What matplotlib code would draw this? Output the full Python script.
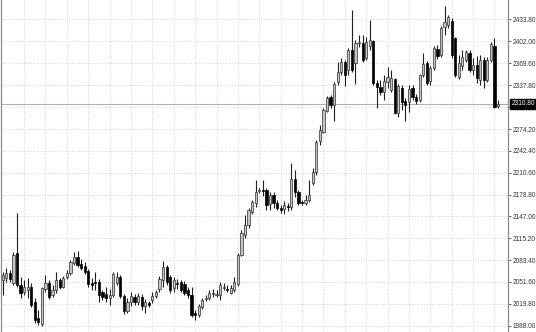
import matplotlib.pyplot as plt
import numpy as np

# OHLC das velas (da esquerda para a direita)
opens = [2055, 2057, 2065, 2050, 2094, 2047, 2037, 2040, 2044, 2023,
         1999, 1990, 2041, 2050, 2033, 2040, 2055, 2044, 2059, 2065,
         2079, 2088, 2078, 2075, 2068, 2050, 2052, 2052, 2037, 2034,
         2028, 2033, 2050, 2059, 2031, 2009, 2023, 2030, 2023, 2030,
         2017, 2021, 2025, 2031, 2041, 2055, 2073, 2059, 2043, 2050,
         2052, 2049, 2040, 2033, 2007, 2004, 2015, 2027, 2028, 2034,
         2033, 2033, 2043, 2041, 2036, 2040, 2049, 2091, 2120, 2135,
         2153, 2167, 2184, 2185, 2185, 2165, 2178, 2167, 2159, 2158,
         2162, 2161, 2201, 2183, 2168, 2167, 2171, 2196, 2212, 2257,
         2270, 2300, 2321, 2309, 2343, 2357, 2372, 2360, 2389, 2370,
         2399, 2399, 2378, 2395, 2402, 2341, 2335, 2328, 2343, 2331,
         2347, 2298, 2334, 2315, 2314, 2334, 2321, 2316, 2353, 2370,
         2344, 2363, 2391, 2382, 2423, 2426, 2431, 2407, 2350, 2366,
         2375, 2385, 2360, 2367, 2346, 2375, 2346, 2375, 2395, 2308]
closes = [2062, 2065, 2056, 2091, 2047, 2036, 2044, 2044, 2018, 1996,
          1993, 2043, 2050, 2030, 2040, 2055, 2044, 2057, 2065, 2081,
          2088, 2076, 2072, 2066, 2049, 2047, 2050, 2033, 2030, 2028,
          2033, 2063, 2059, 2031, 2009, 2023, 2031, 2023, 2031, 2017,
          2023, 2018, 2031, 2037, 2056, 2073, 2052, 2040, 2055, 2049,
          2040, 2036, 2033, 2004, 2004, 2017, 2025, 2028, 2036, 2036,
          2034, 2047, 2044, 2040, 2043, 2052, 2091, 2123, 2135, 2156,
          2168, 2183, 2185, 2184, 2164, 2178, 2167, 2159, 2156, 2164,
          2161, 2201, 2183, 2167, 2167, 2171, 2178, 2212, 2255, 2273,
          2302, 2319, 2309, 2340, 2357, 2372, 2353, 2389, 2360, 2399,
          2401, 2375, 2401, 2404, 2341, 2335, 2328, 2344, 2350, 2348,
          2298, 2337, 2314, 2309, 2332, 2321, 2315, 2353, 2369, 2341,
          2363, 2392, 2380, 2421, 2430, 2437, 2382, 2353, 2370, 2379,
          2386, 2360, 2367, 2348, 2375, 2346, 2375, 2398, 2306, 2311]
highs = [2066, 2072, 2069, 2095, 2152, 2059, 2055, 2057, 2050, 2028,
         2011, 2044, 2062, 2055, 2047, 2066, 2057, 2060, 2069, 2084,
         2095, 2097, 2085, 2081, 2071, 2057, 2066, 2056, 2040, 2044,
         2041, 2066, 2066, 2062, 2034, 2028, 2037, 2034, 2036, 2034,
         2027, 2024, 2037, 2040, 2060, 2082, 2076, 2062, 2059, 2056,
         2055, 2053, 2044, 2044, 2011, 2020, 2028, 2033, 2040, 2041,
         2040, 2052, 2050, 2047, 2047, 2059, 2094, 2127, 2149, 2159,
         2171, 2200, 2188, 2200, 2188, 2182, 2182, 2171, 2164, 2169,
         2167, 2225, 2215, 2185, 2171, 2178, 2200, 2217, 2258, 2280,
         2305, 2322, 2324, 2343, 2372, 2378, 2375, 2392, 2447, 2404,
         2411, 2411, 2408, 2433, 2404, 2346, 2346, 2353, 2364, 2360,
         2348, 2340, 2338, 2319, 2338, 2338, 2325, 2354, 2385, 2373,
         2366, 2395, 2396, 2424, 2453, 2440, 2436, 2408, 2382, 2389,
         2389, 2389, 2378, 2380, 2382, 2379, 2379, 2401, 2407, 2316]
lows = [2033, 2052, 2052, 2047, 2044, 2028, 2033, 2028, 2015, 1992,
        1989, 1988, 2037, 2027, 2030, 2036, 2041, 2043, 2056, 2062,
        2076, 2073, 2069, 2063, 2044, 2040, 2040, 2023, 2025, 2023,
        2018, 2030, 2047, 2028, 2005, 2007, 2017, 2018, 2018, 2011,
        2007, 2015, 2021, 2028, 2037, 2044, 2047, 2036, 2037, 2041,
        2037, 2033, 2028, 2001, 1996, 2001, 2012, 2024, 2025, 2030,
        2030, 2025, 2040, 2037, 2034, 2037, 2046, 2089, 2116, 2130,
        2150, 2161, 2181, 2177, 2156, 2156, 2159, 2156, 2152, 2151,
        2155, 2156, 2175, 2164, 2164, 2164, 2168, 2193, 2207, 2251,
        2268, 2299, 2305, 2286, 2338, 2353, 2337, 2353, 2357, 2340,
        2394, 2372, 2375, 2389, 2338, 2305, 2324, 2316, 2334, 2328,
        2296, 2292, 2302, 2286, 2299, 2316, 2311, 2314, 2350, 2338,
        2338, 2360, 2376, 2379, 2411, 2421, 2378, 2350, 2347, 2360,
        2372, 2357, 2353, 2341, 2338, 2334, 2343, 2372, 2305, 2305]

# rótulos do eixo de preços (como aparecem no gráfico)
tick_values = [1988.00, 2019.80, 2051.60, 2083.40, 2115.20, 2147.00, 2178.80,
               2210.60, 2242.40, 2274.20, 2306.00, 2337.80, 2369.60, 2402.00,
               2433.80]
top_label = 2465.60
last_price = 2310.80

o = np.array(opens, dtype=float)
c = np.array(closes, dtype=float)
h = np.array(highs, dtype=float)
l = np.array(lows, dtype=float)
x = np.arange(len(o))
alta = c >= o

fig = plt.figure(figsize=(5.36, 3.32), dpi=100)
ax = fig.add_axes([1 / 536, 1 / 332, 507 / 536, 331 / 332])

ax.set_xlim(-0.48, len(o) + 1.8)
ax.set_ylim(1980.3, 2461.9)

# grade pontilhada
ax.set_yticks(tick_values)
ax.set_yticklabels([f"{v:.2f}" for v in tick_values])
ax.set_xticks(np.arange(6, len(o) + 2, 6))
ax.set_xticklabels([])
ax.grid(True, color='#d4d4d4', linestyle=(0, (1, 1.5)), linewidth=0.7)
ax.set_axisbelow(True)

# pavios
ax.vlines(x, l, h, color='#202020', linewidth=0.8, zorder=2)

# corpos
largura = 0.62
base = np.minimum(o, c)
altura = np.maximum(np.abs(c - o), 0.9)
ax.bar(x[alta], altura[alta], largura, bottom=base[alta],
       facecolor='#c4c4c4', edgecolor='#303030', linewidth=0.5, zorder=3)
ax.bar(x[~alta], altura[~alta], largura, bottom=base[~alta],
       facecolor='#000000', edgecolor='#000000', linewidth=0.5, zorder=3)

# linha do preço atual
ax.axhline(last_price, color='#b0b0b0', linewidth=0.8, zorder=1)

# eixo de preços à direita
ax.yaxis.tick_right()
ax.tick_params(axis='y', length=2, width=0.6, pad=1.2, colors='#555555',
               labelsize=4.7, labelcolor='#333333')
ax.tick_params(axis='x', length=0)
for lbl in ax.get_yticklabels():
    lbl.set_family('Liberation Sans')

for s in ['top', 'bottom']:
    ax.spines[s].set_visible(False)
ax.spines['right'].set_color('#8a8a8a')
ax.spines['left'].set_color('#8a8a8a')
ax.spines['right'].set_linewidth(0.9)
ax.spines['left'].set_linewidth(0.9)

trans = ax.get_yaxis_transform()
ax.text(1.0075, top_label, f"{top_label:.2f}", transform=trans, clip_on=False,
        fontsize=4.7, family='Liberation Sans', color='#333333',
        ha='left', va='center')
ax.text(1.0075, last_price, f"{last_price:.2f}", transform=trans, clip_on=False,
        fontsize=4.7, family='Liberation Sans', color='white',
        ha='left', va='center', zorder=10,
        bbox=dict(boxstyle='square,pad=0.25', facecolor='black',
                  edgecolor='black'))

fig.savefig('out.png', dpi=100, facecolor='white')
